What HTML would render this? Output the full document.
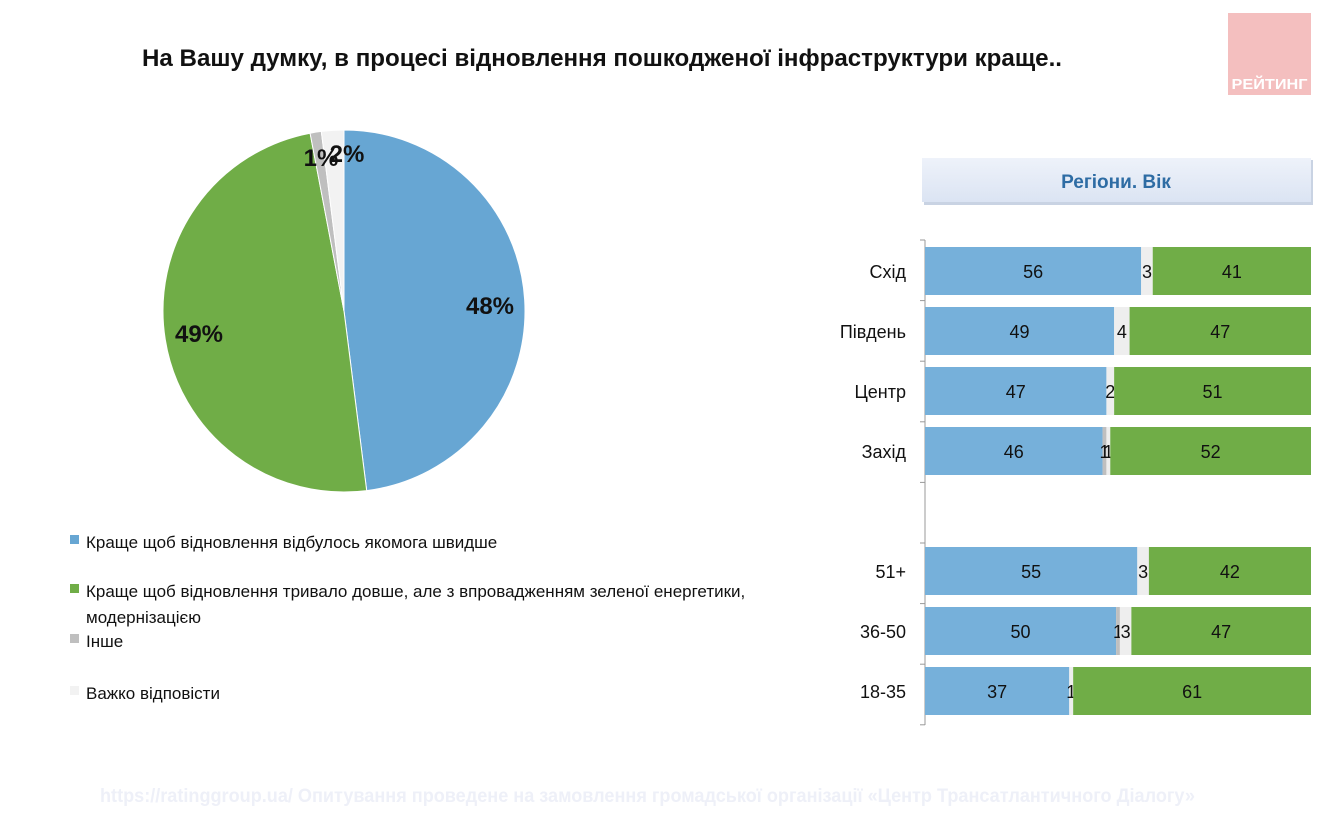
<!DOCTYPE html>
<html><head><meta charset="utf-8"><style>
body{margin:0;background:#fff;width:1336px;height:816px;overflow:hidden;font-family:"Liberation Sans",sans-serif}
svg{display:block}
</style></head><body>
<svg id="chart" width="1336" height="816" xmlns="http://www.w3.org/2000/svg">
<text x="142" y="66" font-size="24" font-weight="bold" fill="#111" textLength="920" lengthAdjust="spacingAndGlyphs">На Вашу думку, в процесі відновлення пошкодженої інфраструктури краще..</text>
<g>
<rect x="1228" y="13" width="83" height="82" fill="#f4bfbf"/>
<text x="1269.5" y="89" font-size="15" font-weight="bold" fill="#fff" text-anchor="middle" textLength="76" lengthAdjust="spacingAndGlyphs">РЕЙТИНГ</text>
</g>
<g id="pie"></g>
<g id="legend"></g>
<defs><linearGradient id="hg" x1="0" y1="0" x2="0" y2="1"><stop offset="0" stop-color="#eef2fa"/><stop offset="1" stop-color="#dbe4f3"/></linearGradient></defs>
<g>
<rect x="924" y="160" width="389" height="45" fill="#c9d3e3"/>
<rect x="922" y="158" width="389" height="44" fill="url(#hg)"/>
<text x="1116" y="188" font-size="19" font-weight="bold" fill="#2e6ca4" text-anchor="middle">Регіони. Вік</text>
</g>
<g id="bars"></g>
<text x="100" y="802" font-size="19" font-weight="bold" fill="#eef0f8" textLength="1095" lengthAdjust="spacingAndGlyphs">https://ratinggroup.ua/    Опитування проведене на замовлення громадської організації «Центр Трансатлантичного Діалогу»</text>
</svg>
<script>
const pieLabels=["Краще щоб відновлення відбулось якомога швидше","Краще щоб відновлення тривало довше, але з впровадженням зеленої енергетики,","Інше","Важко відповісти"];
const pieValues=[48,49,1,2];
const pieColors=["#67a6d3","#70ad47","#bfbfbf","#f2f2f2"];
const categories=["Схід","Південь","Центр","Захід","","51+","36-50","18-35"];
const fastVals=[56,49,47,46,null,55,50,37];
const otherVals=[0,0,0,1,null,0,1,0];
const hardVals=[3,4,2,1,null,3,3,1];
const greenVals=[41,47,51,52,null,42,47,61];
const NS="http://www.w3.org/2000/svg";
function mk(t,a,p){const e=document.createElementNS(NS,t);for(const k in a)e.setAttribute(k,a[k]);p.appendChild(e);return e;}
const pie=document.getElementById('pie');
const cx=344,cy=311,R=181;
const tot=pieValues.reduce((a,b)=>a+b,0);
let ang=0;
pieValues.forEach((v,i)=>{
  const a0=ang,a1=ang+v/tot*2*Math.PI;ang=a1;
  const x0=cx+R*Math.sin(a0),y0=cy-R*Math.cos(a0),x1=cx+R*Math.sin(a1),y1=cy-R*Math.cos(a1);
  const p=mk('path',{d:`M${cx},${cy}L${x0},${y0}A${R},${R} 0 ${a1-a0>Math.PI?1:0} 1 ${x1},${y1}Z`,fill:pieColors[i],stroke:'#fff','stroke-width':1},pie);
  
  
});
const pl=[[490,314],[199,342],[321,166],[347,162]];
pieValues.forEach((v,i)=>{
  const t=mk('text',{x:pl[i][0],y:pl[i][1],'font-size':24,'font-weight':'bold','text-anchor':'middle',fill:'#111'},pie);
  t.textContent=v+'%';
  
  
});
const lg=document.getElementById('legend');
const ly=[542,591,641,693];
pieLabels.forEach((s,i)=>{
  const r=mk('rect',{x:70,y:ly[i]-7,width:9,height:9,fill:pieColors[i]},lg);
  
  
  const t=mk('text',{x:86,y:ly[i]+6,'font-size':17,fill:'#111'},lg);
  t.textContent=s;
  
  
});
const t2=mk('text',{x:86,y:623,'font-size':17,fill:'#111'},lg);
t2.textContent='модернізацією';


const bg=document.getElementById('bars');
const X0=925,W=386,top0=247,pitch=60,bh=48;
mk('line',{x1:X0,y1:240,x2:X0,y2:725,stroke:'#999','stroke-width':1},bg);
for(let k=0;k<=categories.length;k++)mk('line',{x1:X0-5,y1:240+k*60.6,x2:X0,y2:240+k*60.6,stroke:'#999'},bg);
categories.forEach((c,i)=>{
  const y=top0+i*pitch;
  if(fastVals[i]===null)return;
  const lt=mk('text',{x:906,y:y+bh/2+7,'font-size':18,'text-anchor':'end',fill:'#111'},bg);
  lt.textContent=c;
  
  
  const segs=[fastVals[i],otherVals[i],hardVals[i],greenVals[i]];
  const cols=["#76b0da","#bfbfbf","#eeeeee","#70ad47"];
  const sum=segs.reduce((a,b)=>a+b,0);
  let x=X0;
  segs.forEach((v,j)=>{
    const w=v/sum*W;
    if(v>0){
      const r=mk('rect',{x:x,y:y,width:w,height:bh,fill:cols[j]},bg);
      
      
      const t=mk('text',{x:x+w/2,y:y+bh/2+7,'font-size':18,'text-anchor':'middle',fill:'#111'},bg);
      t.textContent=v;
      
      
    }
    x+=w;
  });
});
</script>
</body></html>
